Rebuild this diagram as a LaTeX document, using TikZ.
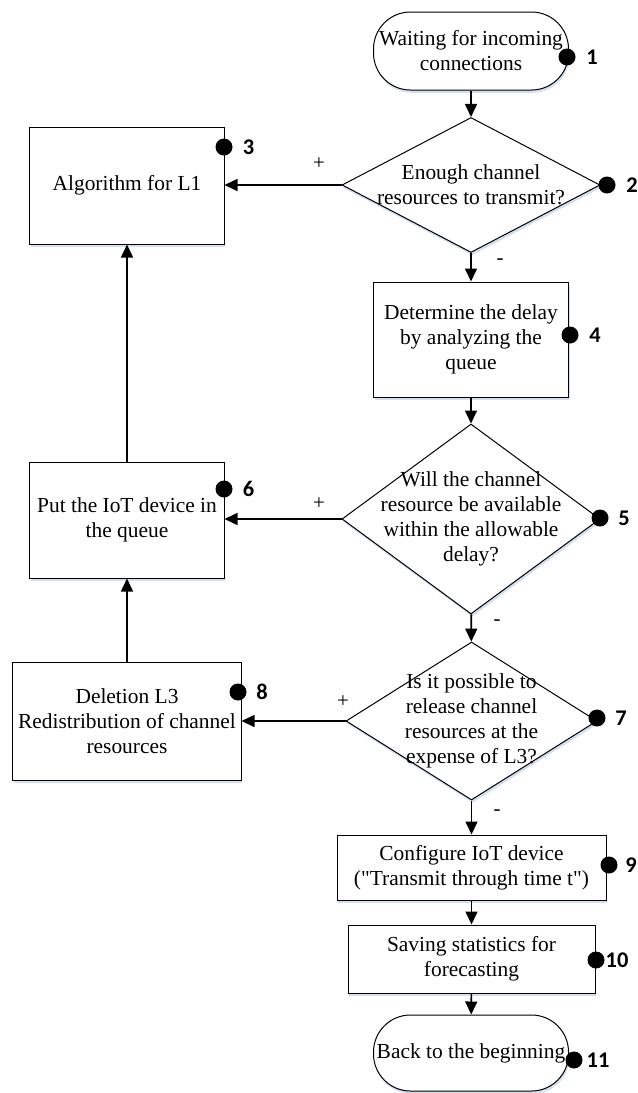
\documentclass[tikz,border=0pt]{standalone}
\usepackage{fontspec}
\setmainfont{Liberation Serif}[Ligatures=TeXOff]
\newfontfamily\numfont{Carlito}
\usetikzlibrary{shapes.geometric,arrows.meta,shadows}
\definecolor{shadowblue}{RGB}{210,224,242}

\begin{document}
\begin{tikzpicture}[x=1bp,y=-1bp,
  softshadow/.style={drop shadow={shadow xshift=1.2bp,shadow yshift=-2.8bp,fill=shadowblue,opacity=1}},
  txt/.style={font=\fontsize{21.5}{25}\selectfont, align=center},
  box/.style={txt, draw, line width=1bp, fill=white, softshadow, rectangle, inner sep=0pt},
  term/.style={box, rounded corners=37bp},
  decision/.style={draw, line width=1bp, fill=white, softshadow, diamond, inner sep=0pt},
  dtext/.style={txt, inner sep=0pt},
  flow/.style={line width=1.6bp, -{Triangle[length=13bp,width=12bp]}},
  marker/.style={circle, fill=black, minimum size=17bp, inner sep=0pt},
  num/.style={font=\numfont\bfseries\fontsize{22.5}{26}\selectfont, inner sep=0pt},
  sign/.style={font=\fontsize{21}{22}\selectfont, inner sep=0pt}
]
\useasboundingbox (0,0) rectangle (638,1093);

% main column
\node[term, minimum width=195bp, minimum height=78bp] (t1) at (471,51)
  {Waiting for incoming\\connections};
\node[decision, minimum width=258bp, minimum height=135bp] (d2) at (471,185) {};
\node[dtext] (d2t) at (d2.center) {Enough channel\\resources to transmit?};
\node[box, minimum width=195bp, minimum height=115bp] (r4) at (471,339.5)
  {Determine the delay\\by analyzing the\\queue};
\node[decision, minimum width=258bp, minimum height=190bp] (d5) at (471,519) {};
\node[dtext] (d5t) at (d5.center) {Will the channel\\resource be available\\within the allowable\\delay?};
\node[decision, minimum width=251bp, minimum height=158bp] (d7) at (471.5,721) {};
\node[dtext] (d7t) at (d7.center) {Is it possible to\\release channel\\resources at the\\expense of L3?};
\node[box, minimum width=269bp, minimum height=65bp] (r9) at (471.5,867.5)
  {Configure IoT device\\("Transmit through time t")};
\node[box, minimum width=247bp, minimum height=68bp] (r10) at (471.5,959)
  {Saving statistics for\\forecasting};
\node[term, minimum width=195bp, minimum height=76bp] (t11) at (471,1053)
  {Back to the beginning};

% left column
\node[box, minimum width=194bp, minimum height=117bp] (r3) at (127,185.5) {Algorithm for L1};
\node[box, minimum width=194bp, minimum height=116bp] (r6) at (127,520) {Put the IoT device in\\the queue};
\node[box, minimum width=228bp, minimum height=118bp] (r8) at (127,721)
  {Deletion L3\\Redistribution of channel\\resources};

% connectors
\draw[flow] (t1) -- (d2);
\draw[flow] (d2) -- (r4);
\draw[flow] (r4) -- (d5);
\draw[flow] (d5) -- (d7);
\draw[flow] (d7) -- (r9);
\draw[flow] (r9) -- (r10);
\draw[flow] (r10) -- (t11);
\draw[flow] (d2.west) -- (d2.west -| r3.east);
\draw[flow] (d5.west) -- (d5.west -| r6.east);
\draw[flow] (d7.west) -- (d7.west -| r8.east);
\draw[flow] (r6.north) -- (r3.south);
\draw[flow] (r8.north) -- (r6.south);

% branch signs
\node[sign] (p2) at (319,164) {+};
\node[sign] (p5) at (319,504) {+};
\node[sign] (p7) at (343,702) {+};
\node[sign] (s2) at (500,262) {-};
\node[sign] (s5) at (497,623) {-};
\node[sign] (s7) at (497,813) {-};

% numbered markers
\node[marker] (m1) at (567,57) {};   \node[num] (n1) at (592,57) {1};
\node[marker] (m2) at (607,185) {};  \node[num] (n2) at (632,185) {2};
\node[marker] (m3) at (224,147) {};  \node[num] (n3) at (248.5,147) {3};
\node[marker] (m4) at (570,335) {};  \node[num] (n4) at (595,335) {4};
\node[marker] (m5) at (600,518) {};  \node[num] (n5) at (624,518) {5};
\node[marker] (m6) at (224,489) {};  \node[num] (n6) at (248.5,489) {6};
\node[marker] (m7) at (597,718) {};  \node[num] (n7) at (621,718) {7};
\node[marker] (m8) at (238,692) {};  \node[num] (n8) at (262,692) {8};
\node[marker] (m9) at (609,865) {};  \node[num] (n9) at (631,865) {9};
\node[marker] (m10) at (596,960) {}; \node[num] (n10) at (617,960) {10};
\node[marker] (m11) at (574,1060) {};\node[num] (n11) at (598,1060) {11};
\end{tikzpicture}
\end{document}
